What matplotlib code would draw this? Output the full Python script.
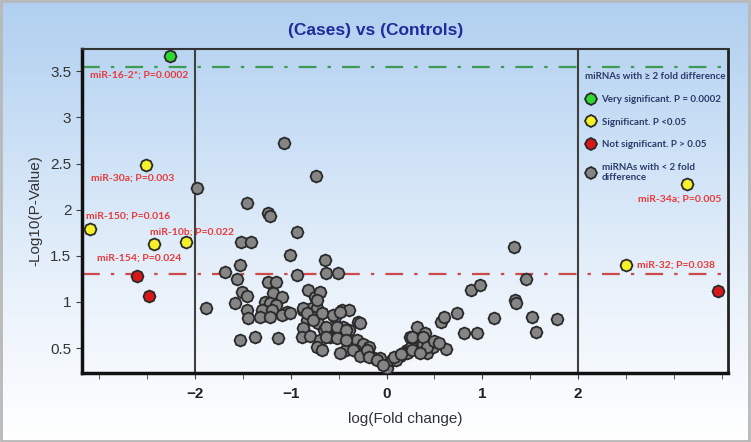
import matplotlib
matplotlib.use("Agg")
import matplotlib.pyplot as plt
import numpy as np
from matplotlib.lines import Line2D
from matplotlib.markers import MarkerStyle
from matplotlib.transforms import Affine2D
from matplotlib.colors import LinearSegmentedColormap

# miRNAs with >= 2 fold difference
sig_names = ["miR-16-2*; P=0.0002", "miR-30a; P=0.003", "miR-150; P=0.016",
             "miR-10b; P=0.022", "miR-154; P=0.024", "miR-34a; P=0.005",
             "miR-32; P=0.038", "", "", ""]
sig_fc = [-2.26, -2.51, -3.10, -2.09, -2.43, 3.14, 2.50, -2.60, -2.48, 3.46]
sig_logp = [3.67, 2.48, 1.79, 1.65, 1.63, 2.28, 1.40, 1.28, 1.06, 1.12]
sig_class = ["very", "sig", "sig", "sig", "sig", "sig", "sig", "ns", "ns", "ns"]

# miRNAs with < 2 fold difference
gray_fc = [-1.07, -0.74, -1.98, -1.46, -1.24, -1.22, -0.93, -1.52, -1.41, -1.01,
           -0.64, -1.53, -1.69, -1.56, -0.63, -0.51, -0.93, -1.24, -1.15, -1.51,
           -1.46, -1.19, -1.09, -0.82, -1.58, -1.88, -1.27, -1.22, -1.15, -1.30,
           -1.20, -1.04, -1.46, -1.45, -1.32, -1.22, -1.09, -1.01, -0.875, -0.78,
           -0.83, -0.875, -1.53, -1.375, -1.135, -0.885, -0.80, -0.72, -0.75, -0.70,
           -0.73, -0.67, -0.77, -0.72, -0.65, -0.59, -0.70, -0.73, -0.67, -0.54,
           -0.47, -0.39, -0.30, -0.46, -0.39, -0.52, -0.46, -0.31, -0.25, -0.18,
           -0.42, -0.33, -0.25, -0.15, -0.07, 0.0, 0.0, 0.06, 0.135, 0.21,
           0.26, 0.31, 0.24, 0.32, 0.40, 0.375, 0.45, 0.42, 0.48, 0.625,
           0.17, 0.57, 0.60, 0.73, 0.81, 0.94, 0.885, 0.97, 1.125, 1.33,
           1.34, 1.35, 1.45, 1.52, 1.56, 1.78, -0.49, -0.35, -0.28, -0.20,
           -0.18, -0.10, -0.04, -0.63, -0.52, -0.42, -0.63, -0.52, -0.42, 0.10,
           0.21, 0.27, 0.27, 0.375, 0.42, -0.73, -0.875, -0.83, -0.77, -0.67,
           -0.56, -0.49, -0.28, 0.08, 0.15, 0.35, 0.50, 0.55]
gray_logp = [2.72, 2.37, 2.23, 2.07, 1.96, 1.93, 1.76, 1.65, 1.65, 1.51,
             1.45, 1.40, 1.32, 1.25, 1.31, 1.31, 1.29, 1.22, 1.22, 1.11,
             1.07, 1.10, 1.05, 1.13, 0.99, 0.94, 1.00, 0.99, 0.97, 0.91,
             0.91, 0.89, 0.91, 0.83, 0.84, 0.84, 0.86, 0.88, 0.91, 0.94,
             0.80, 0.72, 0.59, 0.62, 0.61, 0.62, 0.63, 0.51, 1.05, 1.11,
             0.94, 0.88, 0.84, 0.77, 0.70, 0.62, 0.59, 0.51, 0.48, 0.84,
             0.91, 0.91, 0.78, 0.73, 0.70, 0.62, 0.62, 0.59, 0.55, 0.51,
             0.48, 0.48, 0.45, 0.40, 0.39, 0.32, 0.28, 0.37, 0.42, 0.48,
             0.51, 0.62, 0.62, 0.73, 0.66, 0.55, 0.51, 0.45, 0.51, 0.49,
             0.45, 0.78, 0.84, 0.88, 0.66, 0.66, 1.13, 1.18, 0.83, 1.60,
             1.02, 0.99, 1.25, 0.84, 0.67, 0.82, 0.45, 0.48, 0.42, 0.48,
             0.40, 0.37, 0.32, 0.73, 0.73, 0.70, 0.62, 0.61, 0.59, 0.37,
             0.45, 0.48, 0.62, 0.62, 0.51, 1.02, 0.94, 0.88, 0.80, 0.88,
             0.86, 0.89, 0.77, 0.40, 0.44, 0.45, 0.58, 0.56]

# label offsets in pixels from each labelled point
label_offsets = [(-80, -20), (-55, -13), (-4, 13), (-36, 10), (-57, -14),
                 (34, -15), (11, 0)]

fc_cut = 2
p_sig = 1.30    # -log10(0.05)
p_very = 3.55

fig = plt.figure(figsize=(7.51, 4.42), dpi=100)

# gradient background
bg = fig.add_axes([0, 0, 1, 1], zorder=-10)
grad = np.linspace(0, 1, 256).reshape(-1, 1)
cmap = LinearSegmentedColormap.from_list("bg", ["#ffffff", "#eaf2fb", "#cde1f6", "#b0cff0"])
bg.imshow(grad, aspect="auto", cmap=cmap, origin="lower", extent=[0, 1, 0, 1])
bg.set_xlim(0, 1)
bg.set_ylim(0, 1)
bg.axis("off")
fig.patches.append(plt.Rectangle((0.001, 0.002), 0.997, 0.995, transform=fig.transFigure,
                                 fill=False, edgecolor="#b8b8b8", lw=2))

ax = fig.add_axes([0.109, 0.156, 0.860, 0.733])
ax.set_facecolor("none")

mk = MarkerStyle("8", transform=Affine2D().rotate_deg(22.5))
colors = {"very": "#2fd82f", "sig": "#f4f02a", "ns": "#d81818"}

ax.axhline(p_very, color="#3c9a52", lw=1.6, ls=(0, (8, 5, 1.5, 5)), zorder=1)
ax.axhline(p_sig, color="#cc4a4a", lw=1.6, ls=(0, (8, 5, 1.5, 5)), zorder=1)
ax.axvline(-fc_cut, color="#404040", lw=1.5, zorder=1)
ax.axvline(fc_cut, color="#404040", lw=1.5, zorder=1)

ax.scatter(gray_fc, gray_logp, s=75, marker=mk, facecolor="#858585",
           edgecolor="#2a2a2a", linewidth=1.3, zorder=3)
for i in range(len(sig_fc)):
    ax.scatter(sig_fc[i], sig_logp[i], s=75, marker=mk, facecolor=colors[sig_class[i]],
               edgecolor="#2a2a2a", linewidth=1.3, zorder=4)

for i, (dx, dy) in enumerate(label_offsets):
    ax.annotate(sig_names[i], (sig_fc[i], sig_logp[i]), xytext=(dx, dy),
                textcoords="offset pixels", ha="right" if dx > 30 else "left",
                va="center", color="#e83a3a", fontsize=7.5, fontweight="bold",
                family="Lato", zorder=5)

ax.set_xlim(-3.18, 3.56)
ax.set_ylim(0.23, 3.74)
ax.set_xticks([-2, -1, 0, 1, 2])
ax.set_xticks([-3, -2.5, -1.5, -0.5, 0.5, 1.5, 2.5, 3, 3.5], minor=True)
ax.set_yticks([0.5, 1, 1.5, 2, 2.5, 3, 3.5])
ax.set_yticklabels(["0.5", "1", "1.5", "2", "2.5", "3", "3.5"])
ax.tick_params(axis="x", which="both", length=4, color="#404040", labelsize=11,
               labelcolor="#222222", pad=6)
ax.tick_params(axis="y", length=4, color="#404040", labelsize=11, labelcolor="#333333")
for t in ax.get_xticklabels():
    t.set_fontweight("bold")
    t.set_family("Liberation Sans")
for t in ax.get_yticklabels():
    t.set_family("Liberation Sans")

for side in ["left", "bottom"]:
    ax.spines[side].set_linewidth(2.5)
    ax.spines[side].set_color("#111111")
ax.spines["top"].set_linewidth(1.5)
ax.spines["top"].set_color("#333333")
ax.spines["right"].set_linewidth(2)
ax.spines["right"].set_color("#222222")

ax.set_xlabel("log(Fold change)", fontsize=11, family="Liberation Sans", color="#333333", labelpad=8)
ax.set_ylabel("-Log10(P-Value)", fontsize=11, family="Liberation Sans", color="#333333", labelpad=6)
fig.text(0.5, 0.932, "(Cases) vs (Controls)", ha="center", va="center", fontsize=12.5,
         fontweight="bold", color="#1c2c9c", family="Liberation Sans")

handles = [
    Line2D([], [], ls="", marker=mk, markersize=8.5, markerfacecolor=colors["very"], markeredgecolor="#2a2a2a", markeredgewidth=1.3),
    Line2D([], [], ls="", marker=mk, markersize=8.5, markerfacecolor=colors["sig"], markeredgecolor="#2a2a2a", markeredgewidth=1.3),
    Line2D([], [], ls="", marker=mk, markersize=8.5, markerfacecolor=colors["ns"], markeredgecolor="#2a2a2a", markeredgewidth=1.3),
    Line2D([], [], ls="", marker=mk, markersize=8.5, markerfacecolor="#858585", markeredgecolor="#2a2a2a", markeredgewidth=1.3),
]
labels = ["Very significant. P = 0.0002", "Significant. P <0.05",
          "Not significant. P > 0.05", "miRNAs with < 2 fold\ndifference"]
leg = ax.legend(handles, labels, loc="upper left", bbox_to_anchor=(0.773, 0.94),
                frameon=False, title="miRNAs with \u2265 2 fold difference",
                prop={"family": "Lato", "size": 7, "weight": "bold"},
                title_fontproperties={"family": "Lato", "size": 7, "weight": "bold"},
                alignment="left", labelspacing=1.4, handletextpad=0.5,
                handlelength=1.2, borderaxespad=0)
for t in leg.get_texts():
    t.set_color("#2a3a6a")
leg.get_title().set_color("#2a3a6a")

fig.savefig("out.png", dpi=100)
